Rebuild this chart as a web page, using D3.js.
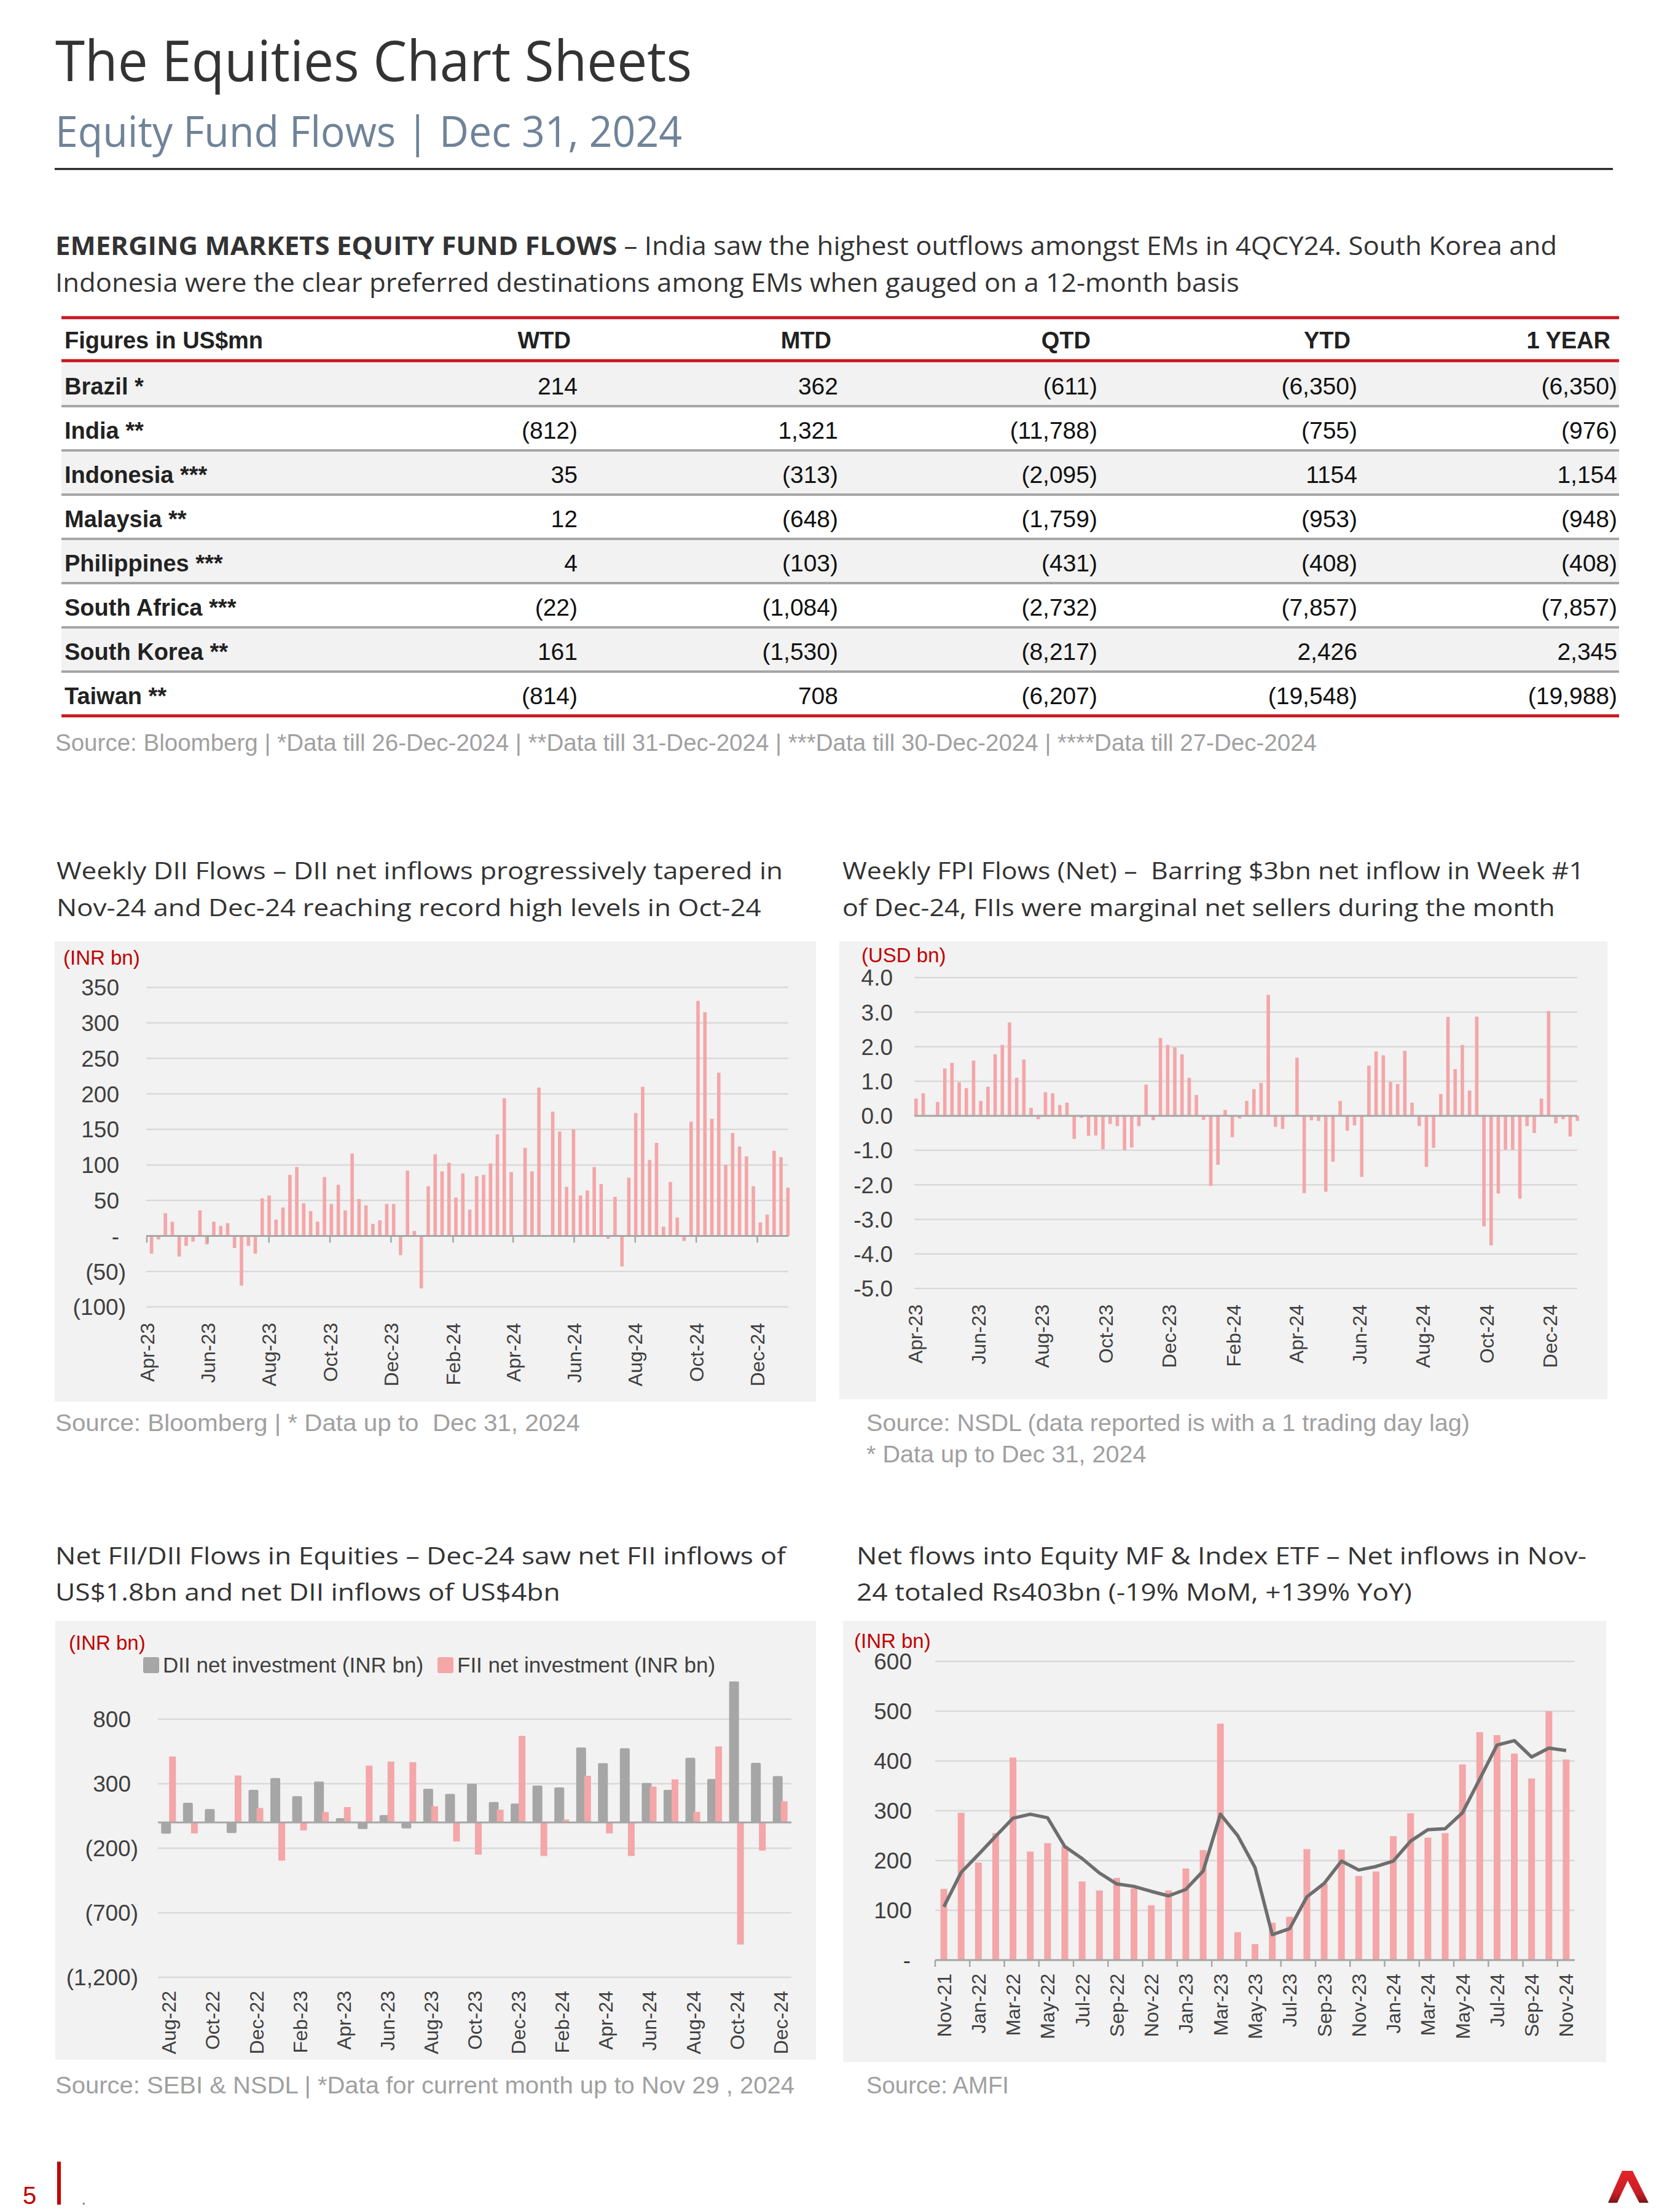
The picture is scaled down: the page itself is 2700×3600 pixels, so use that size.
<!DOCTYPE html>
<html>
<head>
<meta charset="utf-8">
<title>The Equities Chart Sheets</title>
<script src="https://cdn.jsdelivr.net/npm/d3@7"></script>
<style>
body { margin: 0; background: #fff; }
svg { display: block; }
text { white-space: pre; }
</style>
</head>
<body>
<svg id="page" width="2700" height="3600"></svg>
<script>
// ---- table ----
var tableCols = ["WTD", "MTD", "QTD", "YTD", "1 YEAR"];
var tableRows = ["Brazil *", "India **", "Indonesia ***", "Malaysia **", "Philippines ***", "South Africa ***", "South Korea **", "Taiwan **"];
var wtd = ["214", "(812)", "35", "12", "4", "(22)", "161", "(814)"];
var mtd = ["362", "1,321", "(313)", "(648)", "(103)", "(1,084)", "(1,530)", "708"];
var qtd = ["(611)", "(11,788)", "(2,095)", "(1,759)", "(431)", "(2,732)", "(8,217)", "(6,207)"];
var ytd = ["(6,350)", "(755)", "1154", "(953)", "(408)", "(7,857)", "2,426", "(19,548)"];
var oneYear = ["(6,350)", "(976)", "1,154", "(948)", "(408)", "(7,857)", "2,345", "(19,988)"];

// ---- weekly DII flows (INR bn), null = no print that week ----
var diiWeekly = [-25, -5, 32, 20, -29, -14, -8, 36, -12, 20,
  14, 18, -17, -70, -14, -25, 53, 57, 23, 40,
  86, 97, 46, 35, 20, 83, 45, 72, 36, 116,
  52, 43, 17, 22, 45, 45, -27, 92, 7, -74,
  70, 115, 91, 103, 54, 88, 37, 84, 86, 102,
  143, 194, 90, null, 124, 91, 209, null, 175, 147,
  69, 150, 57, 64, 97, 73, -4, 55, -43, 82,
  173, 210, 107, 131, 13, 76, 26, -7, 161, 331,
  315, 165, 230, 100, 145, 126, 112, 70, 19, 30,
  120, 111, 68];
var diiTicks = [-100, -50, 0, 50, 100, 150, 200, 250, 300, 350];

// ---- weekly FPI flows (USD bn) ----
var fpiWeekly = [0.5, 0.65, 0, 0.4, 1.37, 1.53, 0.97, 0.8, 1.6, 0.43,
  0.84, 1.78, 2.05, 2.7, 1.1, 1.63, 0.23, -0.1, 0.68, 0.65,
  0.31, 0.38, -0.67, -0.06, -0.58, -0.57, -0.97, -0.24, -0.3, -1.0,
  -0.92, -0.3, 0.9, -0.13, 2.25, 2.05, 1.98, 1.78, 1.1, 0.6,
  -0.12, -2.03, -1.42, 0.17, -0.62, -0.08, 0.43, 0.77, 0.95, 3.5,
  -0.32, -0.38, -0.02, 1.68, -2.24, -0.13, -0.15, -2.2, -1.33, 0.43,
  -0.43, -0.28, -1.77, 1.45, 1.86, 1.75, 0.98, 0.92, 1.88, 0.38,
  -0.3, -1.48, -0.93, 0.63, 2.86, 1.35, 2.05, 0.73, 2.87, -3.2,
  -3.75, -2.25, -0.98, -0.98, -2.4, -0.3, -0.5, 0.5, 3.03, -0.22,
  -0.1, -0.6, -0.15];
var fpiTicks = [-5, -4, -3, -2, -1, 0, 1, 2, 3, 4];

var weeklyLabels = ["Apr-23", "Jun-23", "Aug-23", "Oct-23", "Dec-23", "Feb-24", "Apr-24", "Jun-24", "Aug-24", "Oct-24", "Dec-24"];

// ---- monthly FII / DII (INR bn) ----
var flowMonths = ["Aug-22", "Sep-22", "Oct-22", "Nov-22", "Dec-22", "Jan-23", "Feb-23", "Mar-23", "Apr-23", "May-23",
  "Jun-23", "Jul-23", "Aug-23", "Sep-23", "Oct-23", "Nov-23", "Dec-23", "Jan-24", "Feb-24", "Mar-24",
  "Apr-24", "May-24", "Jun-24", "Jul-24", "Aug-24", "Sep-24", "Oct-24", "Nov-24", "Dec-24"];
var diiMonthly = [-87, 152, 104, -82, 252, 344, 203, 317, 33, -51,
  57, -46, 261, 221, 300, 158, 147, 286, 272, 581,
  459, 575, 306, 252, 501, 337, 1093, 462, 360];
var fiiMonthly = [511, -85, 0, 364, 112, -296, -62, 81, 119, 440,
  472, 467, 125, -147, -249, 99, 671, -260, 23, 362,
  -85, -260, 278, 334, 82, 589, -946, -218, 164];
var flowTicks = [-1200, -700, -200, 300, 800];

// ---- equity MF & index ETF (INR bn) ----
var mfMonths = ["Nov-21", "Dec-21", "Jan-22", "Feb-22", "Mar-22", "Apr-22", "May-22", "Jun-22", "Jul-22", "Aug-22",
  "Sep-22", "Oct-22", "Nov-22", "Dec-22", "Jan-23", "Feb-23", "Mar-23", "Apr-23", "May-23", "Jun-23",
  "Jul-23", "Aug-23", "Sep-23", "Oct-23", "Nov-23", "Dec-23", "Jan-24", "Feb-24", "Mar-24", "Apr-24",
  "May-24", "Jun-24", "Jul-24", "Aug-24", "Sep-24", "Oct-24", "Nov-24"];
var mfFlows = [143, 296, 196, 255, 407, 218, 235, 229, 158, 140,
  165, 144, 110, 140, 184, 221, 475, 56, 32, 75,
  87, 223, 154, 222, 169, 178, 249, 295, 246, 255,
  393, 458, 452, 415, 365, 500, 403];
var mfAvg = [107, 176, 212, 249, 285, 293, 286, 228, 204, 175,
  153, 148, 138, 129, 142, 179, 293, 250, 186, 51,
  63, 127, 154, 199, 181, 188, 199, 239, 262, 264,
  296, 364, 432, 441, 408, 426, 421];
var mfTicks = [0, 100, 200, 300, 400, 500, 600];

var headFont = "'Open Sans', 'Noto Sans', sans-serif";
var bodyFont = "'Liberation Sans', Arial, sans-serif";
var pink = "#f4a6a8", grey = "#a6a6a6", panelFill = "#f2f2f2", gridCol = "#d9d9d9", red = "#c8161d";
var parseMonth = d3.timeParse("%b-%y");

var svg = d3.select("#page");

function label(g, x, y, s, size, fill, font) {
  return g.append("text")
    .attr("x", x)
    .attr("y", y)
    .style("font-family", font || bodyFont)
    .style("font-size", size + "px")
    .attr("fill", fill)
    .text(s);
}

// squeeze line1 to its measured width, and line2 by the same ratio
function fitLines(l1, l2, w) {
  var r = w / l1.node().getComputedTextLength();
  l1.attr("textLength", w).attr("lengthAdjust", "spacingAndGlyphs");
  if (l2) l2.attr("textLength", l2.node().getComputedTextLength() * r).attr("lengthAdjust", "spacingAndGlyphs");
}

// ---- page header ----
fitLines(label(svg, 90, 132, "The Equities Chart Sheets", 92, "#333", headFont), null, 1036);
fitLines(label(svg, 90, 239, "Equity Fund Flows | Dec 31, 2024", 69, "#6f8399", headFont), null, 1020);
svg.append("line").attr("x1", 89).attr("x2", 2625).attr("y1", 275).attr("y2", 275)
  .attr("stroke", "#111").attr("stroke-width", 3);

var sec1 = svg.append("text").attr("x", 90).attr("y", 415)
  .style("font-family", headFont).style("font-size", "42px").attr("fill", "#333");
sec1.append("tspan").style("font-weight", 700).text("EMERGING MARKETS EQUITY FUND FLOWS");
sec1.append("tspan").text(" – India saw the highest outflows amongst EMs in 4QCY24. South Korea and");
var sec2 = label(svg, 90, 475, "Indonesia were the clear preferred destinations among EMs when gauged on a 12-month basis", 42, "#333", headFont);
fitLines(sec1, sec2, 2444);

// ---- table ----
var tbl = svg.append("g");
var rowTop = 589, rowH = 72, tblL = 100, tblR = 2635;
var colVals = [wtd, mtd, qtd, ytd, oneYear];
var valRight = [940, 1364, 1786, 2209, 2632];
var headRight = [929, 1353, 1775, 2198, 2621];

tbl.selectAll(".band")
  .data(tableRows)
  .enter().append("rect")
  .attr("x", tblL)
  .attr("y", function(d, i) { return rowTop + i * rowH; })
  .attr("width", tblR - tblL)
  .attr("height", rowH)
  .attr("fill", function(d, i) { return i % 2 == 0 ? panelFill : "#fff"; });

tbl.selectAll(".sep")
  .data(d3.range(1, tableRows.length))
  .enter().append("line")
  .attr("x1", tblL).attr("x2", tblR)
  .attr("y1", function(i) { return rowTop + i * rowH; })
  .attr("y2", function(i) { return rowTop + i * rowH; })
  .attr("stroke", grey).attr("stroke-width", 4);

[517, 587, rowTop + tableRows.length * rowH].forEach(function(y) {
  tbl.append("line").attr("x1", tblL).attr("x2", tblR).attr("y1", y).attr("y2", y)
    .attr("stroke", red).attr("stroke-width", 5);
});

label(tbl, 105, 567, "Figures in US$mn", 38, "#222").style("font-weight", 700);
tableCols.forEach(function(c, j) {
  label(tbl, headRight[j], 567, c, 38, "#222").style("font-weight", 700).attr("text-anchor", "end");
});
tableRows.forEach(function(r, i) {
  var base = rowTop + i * rowH + 53;
  label(tbl, 105, base, r, 38, "#222").style("font-weight", 700);
  colVals.forEach(function(col, j) {
    label(tbl, valRight[j], base, col[i], 39, "#111").attr("text-anchor", "end");
  });
});
fitLines(label(svg, 90, 1222, "Source: Bloomberg | *Data till 26-Dec-2024 | **Data till 31-Dec-2024 | ***Data till 30-Dec-2024 | ****Data till 27-Dec-2024", 38, "#a0a0a0"), null, 2053);

// ---- weekly bar chart (DII and FPI share this layout) ----
function weeklyChart(o) {
  var g = svg.append("g");
  g.append("rect").attr("x", o.panel[0]).attr("y", o.panel[1]).attr("width", o.panel[2]).attr("height", o.panel[3]).attr("fill", panelFill);
  label(g, o.unitX, o.unitY, o.unit, 33, "#c00000");

  var y = d3.scaleLinear().domain(d3.extent(o.ticks)).range(o.yRange);
  var x = d3.scaleBand().domain(d3.range(o.values.length)).range(o.barRange);
  var t = d3.scaleTime().domain([new Date(2023, 3, 1), new Date(2025, 0, 1)]).range(o.timeRange);

  g.selectAll(".grid")
    .data(o.ticks)
    .enter().append("line")
    .attr("x1", o.grid[0]).attr("x2", o.grid[1])
    .attr("y1", function(d) { return y(d); })
    .attr("y2", function(d) { return y(d); })
    .attr("stroke", gridCol).attr("stroke-width", 2.5);

  g.selectAll(".tick")
    .data(o.ticks)
    .enter().append("text")
    .attr("x", function(d) { return d < 0 ? o.labelRight + o.negShift : o.labelRight; })
    .attr("y", function(d) { return y(d); })
    .attr("dy", "0.36em")
    .attr("text-anchor", "end")
    .style("font-family", bodyFont)
    .style("font-size", "37px")
    .attr("fill", "#404040")
    .text(o.fmt);

  g.selectAll(".bar")
    .data(o.values.map(function(v, i) { return {i: i, v: v}; }).filter(function(d) { return d.v != null; }))
    .enter().append("rect")
    .attr("class", "bar")
    .attr("x", function(d) { return x(d.i) + x.bandwidth() / 2 - 2.8; })
    .attr("width", 5.6)
    .attr("y", function(d) { return Math.min(y(d.v), y(0)); })
    .attr("height", function(d) { return Math.abs(y(d.v) - y(0)); })
    .attr("fill", pink);

  g.append("line").attr("x1", o.grid[0]).attr("x2", o.grid[1]).attr("y1", y(0)).attr("y2", y(0))
    .attr("stroke", grey).attr("stroke-width", 3);
  if (o.tickMarks) {
    g.selectAll(".mark")
      .data(weeklyLabels)
      .enter().append("line")
      .attr("x1", function(d) { return t(parseMonth(d)); })
      .attr("x2", function(d) { return t(parseMonth(d)); })
      .attr("y1", y(0)).attr("y2", y(0) + 11)
      .attr("stroke", grey).attr("stroke-width", 2.5);
  }

  g.selectAll(".month")
    .data(weeklyLabels)
    .enter().append("text")
    .attr("transform", function(d) { return "translate(" + t(parseMonth(d)) + "," + o.labelTop + ") rotate(-90)"; })
    .attr("dy", "0.36em")
    .attr("text-anchor", "end")
    .style("font-family", bodyFont)
    .style("font-size", "32px")
    .attr("fill", "#404040")
    .text(function(d) { return d; });
  return g;
}

var diiT1 = label(svg, 92, 1431, "Weekly DII Flows – DII net inflows progressively tapered in", 39, "#333", headFont);
var diiT2 = label(svg, 92, 1491, "Nov-24 and Dec-24 reaching record high levels in Oct-24", 39, "#333", headFont);
fitLines(diiT1, diiT2, 1182);

weeklyChart({
  values: diiWeekly, ticks: diiTicks,
  panel: [89, 1532, 1239, 749],
  unit: "(INR bn)", unitX: 103, unitY: 1570,
  yRange: [2127, 1607], barRange: [241, 1288], timeRange: [239, 1283], grid: [238, 1283],
  labelRight: 194, negShift: 11, labelTop: 2153, tickMarks: true,
  fmt: function(d) { return d == 0 ? "-" : d < 0 ? "(" + (-d) + ")" : String(d); }
});
fitLines(label(svg, 90, 2329, "Source: Bloomberg | * Data up to  Dec 31, 2024", 38, "#a0a0a0"), null, 854);

var fpiT1 = label(svg, 1371, 1431, "Weekly FPI Flows (Net) –  Barring $3bn net inflow in Week #1", 39, "#333", headFont);
var fpiT2 = label(svg, 1371, 1491, "of Dec-24, FIIs were marginal net sellers during the month", 39, "#333", headFont);
fitLines(fpiT1, fpiT2, 1207);

weeklyChart({
  values: fpiWeekly, ticks: fpiTicks,
  panel: [1366, 1532, 1250, 745],
  unit: "(USD bn)", unitX: 1402, unitY: 1566,
  yRange: [2097, 1591], barRange: [1485, 2573], timeRange: [1489, 2575], grid: [1488, 2567],
  labelRight: 1453, negShift: 0, labelTop: 2123, tickMarks: false,
  fmt: function(d) { return d.toFixed(1); }
});
var fpiS1 = label(svg, 1410, 2329, "Source: NSDL (data reported is with a 1 trading day lag)", 38, "#a0a0a0");
var fpiS2 = label(svg, 1410, 2380, "* Data up to Dec 31, 2024", 38, "#a0a0a0");
fitLines(fpiS1, fpiS2, 982);

// ---- Net FII / DII monthly ----
var fiiT1 = label(svg, 90, 2546, "Net FII/DII Flows in Equities – Dec-24 saw net FII inflows of", 39, "#333", headFont);
var fiiT2 = label(svg, 90, 2605, "US$1.8bn and net DII inflows of US$4bn", 39, "#333", headFont);
fitLines(fiiT1, fiiT2, 1189);

var fg = svg.append("g");
fg.append("rect").attr("x", 90).attr("y", 2638).attr("width", 1238).attr("height", 714).attr("fill", panelFill);
label(fg, 112, 2685, "(INR bn)", 33, "#c00000");

var fy = d3.scaleLinear().domain([-1200, 800]).range([3218, 2798]);
var fx = d3.scaleBand().domain(flowMonths).range([257, 1288]);

fg.selectAll(".grid")
  .data(flowTicks)
  .enter().append("line")
  .attr("x1", 257).attr("x2", 1288)
  .attr("y1", function(d) { return fy(d); })
  .attr("y2", function(d) { return fy(d); })
  .attr("stroke", gridCol).attr("stroke-width", 2.5);

fg.selectAll(".tick")
  .data(flowTicks)
  .enter().append("text")
  .attr("x", function(d) { return d < 0 ? 225 : 213; })
  .attr("y", function(d) { return fy(d); })
  .attr("dy", "0.36em")
  .attr("text-anchor", "end")
  .style("font-family", bodyFont)
  .style("font-size", "37px")
  .attr("fill", "#404040")
  .text(function(d) { return d < 0 ? "(" + d3.format(",")(-d) + ")" : d3.format(",")(d); });

fg.selectAll(".dii")
  .data(flowMonths)
  .enter().append("rect")
  .attr("x", function(d) { return fx(d) + fx.bandwidth() / 2 - 12.5; })
  .attr("width", 16)
  .attr("y", function(d, i) { return Math.min(fy(diiMonthly[i]), fy(0)); })
  .attr("height", function(d, i) { return Math.abs(fy(diiMonthly[i]) - fy(0)); })
  .attr("rx", 2)
  .attr("fill", grey);

fg.selectAll(".fii")
  .data(flowMonths)
  .enter().append("rect")
  .attr("x", function(d) { return fx(d) + fx.bandwidth() / 2 + 0.5; })
  .attr("width", 11)
  .attr("y", function(d, i) { return Math.min(fy(fiiMonthly[i]), fy(0)); })
  .attr("height", function(d, i) { return Math.abs(fy(fiiMonthly[i]) - fy(0)); })
  .attr("fill", pink);

fg.append("line").attr("x1", 257).attr("x2", 1288).attr("y1", fy(0)).attr("y2", fy(0))
  .attr("stroke", grey).attr("stroke-width", 3);

fg.selectAll(".month")
  .data(flowMonths.filter(function(d, i) { return i % 2 == 0; }))
  .enter().append("text")
  .attr("transform", function(d) { return "translate(" + (fx(d) + fx.bandwidth() / 2) + ",3240) rotate(-90)"; })
  .attr("dy", "0.36em")
  .attr("text-anchor", "end")
  .style("font-family", bodyFont)
  .style("font-size", "32px")
  .attr("fill", "#404040")
  .text(function(d) { return d; });

var legend = [["DII net investment (INR bn)", grey, 233], ["FII net investment (INR bn)", pink, 712]];
legend.forEach(function(l) {
  fg.append("rect").attr("x", l[2]).attr("y", 2697).attr("width", 26).attr("height", 26).attr("rx", 3).attr("fill", l[1]);
  label(fg, l[2] + 32, 2722, l[0], 35, "#404040");
});
fitLines(label(svg, 90, 3407, "Source: SEBI & NSDL | *Data for current month up to Nov 29 , 2024", 38, "#a0a0a0"), null, 1203);

// ---- equity MF & index ETF ----
var mfT1 = label(svg, 1394, 2546, "Net flows into Equity MF & Index ETF – Net inflows in Nov-", 39, "#333", headFont);
var mfT2 = label(svg, 1394, 2605, "24 totaled Rs403bn (-19% MoM, +139% YoY)", 39, "#333", headFont);
fitLines(mfT1, mfT2, 1188);

var mg = svg.append("g");
mg.append("rect").attr("x", 1372).attr("y", 2638).attr("width", 1242).attr("height", 718).attr("fill", panelFill);
label(mg, 1390, 2682, "(INR bn)", 33, "#c00000");

var my = d3.scaleLinear().domain([0, 600]).range([3190, 2704]);
var mx = d3.scaleBand().domain(mfMonths).range([1522, 2563]);

mg.selectAll(".grid")
  .data(mfTicks)
  .enter().append("line")
  .attr("x1", 1522).attr("x2", 2563)
  .attr("y1", function(d) { return my(d); })
  .attr("y2", function(d) { return my(d); })
  .attr("stroke", gridCol).attr("stroke-width", 2.5);

mg.selectAll(".tick")
  .data(mfTicks)
  .enter().append("text")
  .attr("x", function(d) { return d == 0 ? 1482 : 1484; })
  .attr("y", function(d) { return my(d); })
  .attr("dy", "0.36em")
  .attr("text-anchor", "end")
  .style("font-family", bodyFont)
  .style("font-size", "37px")
  .attr("fill", "#404040")
  .text(function(d) { return d == 0 ? "-" : String(d); });

mg.selectAll(".bar")
  .data(mfMonths)
  .enter().append("rect")
  .attr("x", function(d) { return mx(d) + mx.bandwidth() / 2 - 5.5; })
  .attr("width", 11)
  .attr("y", function(d, i) { return my(mfFlows[i]); })
  .attr("height", function(d, i) { return my(0) - my(mfFlows[i]); })
  .attr("fill", pink);

mg.append("line").attr("x1", 1522).attr("x2", 2563).attr("y1", my(0)).attr("y2", my(0))
  .attr("stroke", grey).attr("stroke-width", 3);
mg.selectAll(".mark")
  .data(d3.range(0, mfMonths.length, 2))
  .enter().append("line")
  .attr("x1", function(i) { return 1522 + i * mx.step(); })
  .attr("x2", function(i) { return 1522 + i * mx.step(); })
  .attr("y1", my(0)).attr("y2", my(0) + 11)
  .attr("stroke", grey).attr("stroke-width", 2.5);

mg.append("path")
  .datum(mfMonths)
  .attr("fill", "none")
  .attr("stroke", "#6e6e6e")
  .attr("stroke-width", 5.5)
  .attr("stroke-linejoin", "round")
  .attr("d", d3.line()
    .x(function(d) { return mx(d) + mx.bandwidth() / 2; })
    .y(function(d, i) { return my(mfAvg[i]); }));

mg.selectAll(".month")
  .data(mfMonths.filter(function(d, i) { return i % 2 == 0; }))
  .enter().append("text")
  .attr("transform", function(d) { return "translate(" + (mx(d) + mx.bandwidth() / 2) + ",3212) rotate(-90)"; })
  .attr("dy", "0.36em")
  .attr("text-anchor", "end")
  .style("font-family", bodyFont)
  .style("font-size", "32px")
  .attr("fill", "#404040")
  .text(function(d) { return d; });
fitLines(label(svg, 1410, 3407, "Source: AMFI", 38, "#a0a0a0"), null, 232);

// ---- footer ----
label(svg, 37, 3587, "5", 40, "#c00000");
svg.append("rect").attr("x", 93).attr("y", 3518).attr("width", 6).attr("height", 70).attr("fill", "#c00000");
label(svg, 132, 3588, ".", 30, "#888");

var grad = svg.append("defs").append("linearGradient").attr("id", "logoGrad")
  .attr("x1", 0).attr("y1", 0).attr("x2", 0).attr("y2", 1);
grad.append("stop").attr("offset", "0%").attr("stop-color", "#e3242b");
grad.append("stop").attr("offset", "70%").attr("stop-color", "#c81e25");
grad.append("stop").attr("offset", "100%").attr("stop-color", "#7d1417");
svg.append("polygon")
  .attr("points", "2617,3585 2640,3533 2657,3533 2683,3585 2668,3585 2649,3549 2632,3585")
  .attr("fill", "url(#logoGrad)");
</script>
</body>
</html>
